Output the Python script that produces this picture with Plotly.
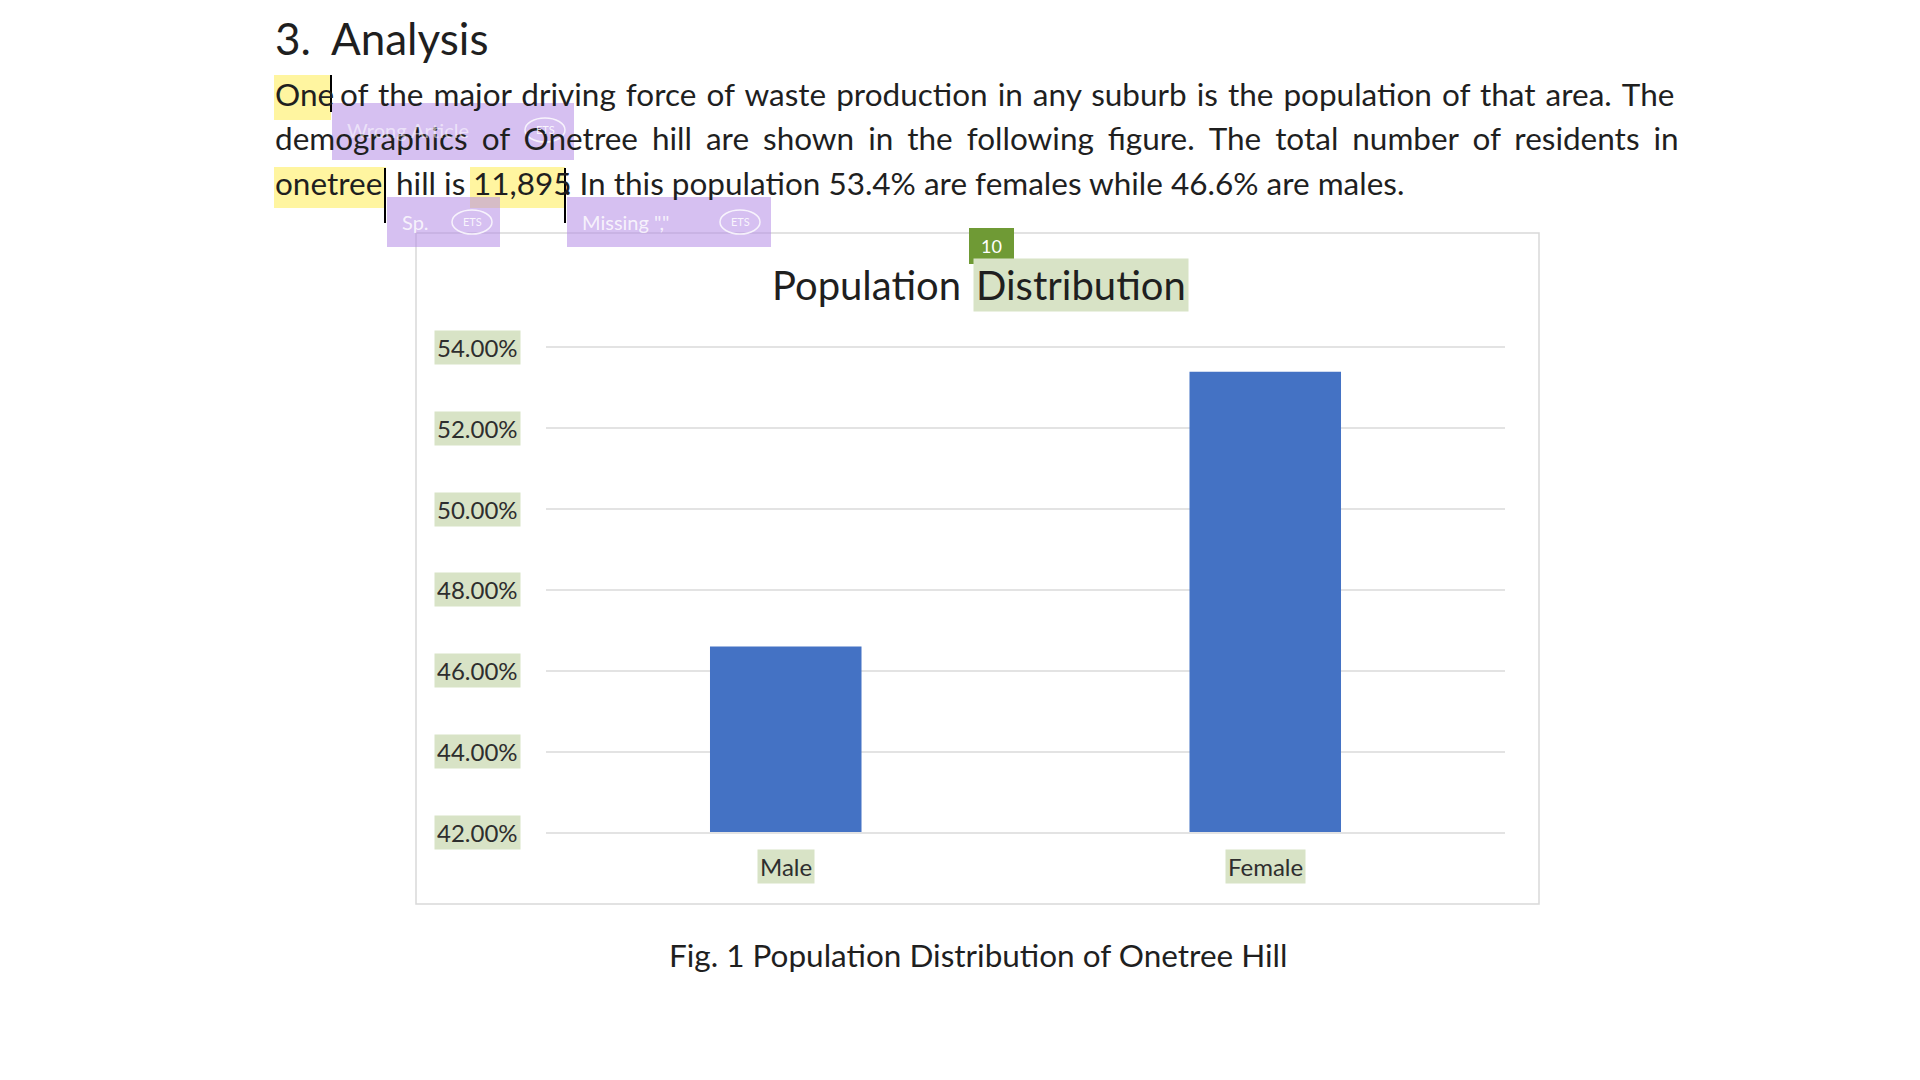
import plotly.graph_objects as go

# ---------------- data ----------------
categories = ["Male", "Female"]
population_share = [0.466, 0.534]
y_tick_values = [0.42, 0.44, 0.46, 0.48, 0.50, 0.52, 0.54]
y_tick_labels = ["42.00%", "44.00%", "46.00%", "48.00%", "50.00%", "52.00%", "54.00%"]

heading_num = "3."
heading_txt = "Analysis"
line1_a = "One"
line1_b = "of the major driving force of waste production in any suburb is the population of that area. The"
line2 = "demographics of Onetree hill are shown in the following figure. The total number of residents in"
line3_parts = ["onetree", "hill is", "11,895", ". In this population 53.4% are females while 46.6% are males."]
title_a = "Population"
title_b = "Distribution"
caption = "Fig. 1 Population Distribution of Onetree Hill"

W, H = 1920, 1080
FONT = "Lato"
TXT = "#1f1f1f"
YELLOW = "#fff5a0"
GREEN_HL = "#d8e3c6"
GRID = "#e3e3e3"
PURPLE = "rgba(180,140,230,0.55)"
HAIR = "\u200a"
THIN = "\u2009"


def px(x):
    return x / W


def py(y):
    return 1 - y / H


def justify(s, extra):
    return s.replace(" ", " " + extra)


fig = go.Figure()
fig.add_trace(go.Bar(
    x=categories, y=population_share,
    marker=dict(color="#4472C4", line=dict(width=0)),
    hoverinfo="skip",
))

annotations = []
shapes = []


def text(x, y, s, size, color=TXT, anchor="left", bg=None, pad=1, yanchor="middle", xref="paper", yref="paper"):
    annotations.append(dict(
        x=x, y=y, xref=xref, yref=yref, text=s, showarrow=False,
        xanchor=anchor, yanchor=yanchor,
        font=dict(family=FONT, size=size, color=color),
        bgcolor=bg, borderpad=pad,
    ))


def rect(x0, y0, x1, y1, fill, line=None, lw=0, layer="below"):
    shapes.append(dict(
        type="rect", xref="paper", yref="paper",
        x0=px(x0), x1=px(x1), y0=py(y1), y1=py(y0),
        fillcolor=fill, line=dict(color=line, width=lw) if line else dict(width=0),
        layer=layer,
    ))


def vline(x, y0, y1, color="#000", w=2):
    shapes.append(dict(type="line", xref="paper", yref="paper",
                       x0=px(x), x1=px(x), y0=py(y1), y1=py(y0),
                       line=dict(color=color, width=w), layer="above"))


# heading
text(px(273), py(38), heading_num, 44)
text(px(329), py(38), heading_txt, 44)

# highlights (yellow)
rect(274, 75, 331, 120, YELLOW)
rect(274, 167, 386, 208, YELLOW)
rect(470, 167, 565, 208, YELLOW)

# body text
BODY = 31.5
text(px(273), py(94), line1_a, BODY)
text(px(338), py(94), justify(line1_b, HAIR), BODY)
text(px(273), py(138), justify(line2, THIN + HAIR), BODY)
text(px(273), py(183), line3_parts[0], BODY)
text(px(394), py(183), line3_parts[1], BODY)
text(px(471), py(183), line3_parts[2], BODY)
text(px(562), py(183), line3_parts[3], BODY)

# purple suggestion boxes
rect(332, 103, 574, 160, PURPLE, layer="above")
rect(387, 197, 500, 247, PURPLE, layer="above")
rect(567, 197, 771, 247, PURPLE, layer="above")
text(px(345), py(130), "Wrong Article", 20, color="rgba(255,255,255,0.55)")
text(px(400), py(222), "Sp.", 20, color="rgba(255,255,255,0.8)")
text(px(580), py(222), "Missing \",\"", 20, color="rgba(255,255,255,0.8)")
for cx, cy in ((545, 130), (472, 222), (740, 222)):
    shapes.append(dict(type="circle", xref="paper", yref="paper",
                       x0=px(cx - 20), x1=px(cx + 20), y0=py(cy + 12), y1=py(cy - 12),
                       line=dict(color="rgba(255,255,255,0.8)", width=1.5), layer="above"))
    text(px(cx), py(cy), "ETS", 11, color="rgba(255,255,255,0.85)", anchor="center")

# cursors
vline(331, 75, 112)
vline(385, 168, 223)
vline(565, 168, 223)

# chart border
rect(416, 233, 1539, 904, "rgba(0,0,0,0)", line="#d9d9d9", lw=1.5)

# badge "10"
rect(969, 228, 1014, 264, "#6f9a35", layer="above")
text(px(991.5), py(246), "10", 18, color="white", anchor="center")

# chart title
text(px(963), py(285), title_a, 40, anchor="right")
text(px(973), py(285), title_b, 40, bg=GREEN_HL, pad=2)

# y tick labels with highlight
for v, lab in zip(y_tick_values, y_tick_labels):
    text(px(521), v, lab, 24, color="#2e2e2e", anchor="right", bg=GREEN_HL, pad=2, yref="y")

# category labels with highlight
for c in categories:
    text(c, py(866), c, 24, color="#2e2e2e", anchor="center", bg=GREEN_HL, pad=2, xref="x")

# caption
text(px(978), py(955), caption, 31.5, anchor="center")

fig.update_layout(
    width=W, height=H,
    margin=dict(l=0, r=0, t=0, b=0),
    paper_bgcolor="white", plot_bgcolor="rgba(0,0,0,0)",
    showlegend=False, bargap=0.684,
    annotations=annotations, shapes=shapes,
    xaxis=dict(domain=[px(546), px(1505)], showticklabels=False, showgrid=False,
               zeroline=False, showline=True, linecolor=GRID, linewidth=1.6,
               ticks="", fixedrange=True),
    yaxis=dict(domain=[py(832.3), py(339.4)], range=[0.42, 0.542],
               tickvals=y_tick_values, showticklabels=False, showgrid=True,
               gridcolor=GRID, gridwidth=1.6, zeroline=False, showline=False,
               ticks="", fixedrange=True),
)

fig.write_html("out.html", config={"displayModeBar": False},
               post_script="document.body.style.margin='0';document.body.style.overflow='hidden';")
